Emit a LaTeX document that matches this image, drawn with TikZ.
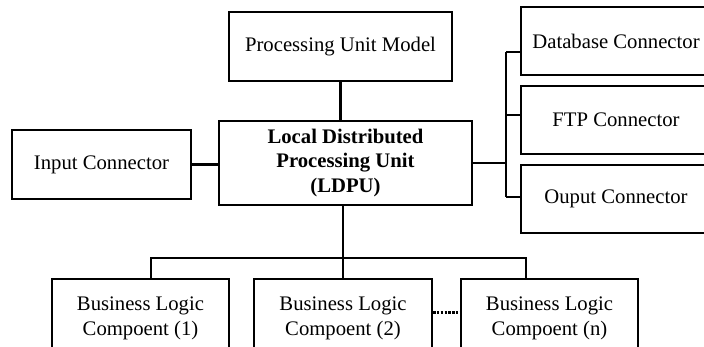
\documentclass[tikz,border=0pt]{standalone}
\usepackage{fontspec}
\setmainfont{Liberation Serif}
\begin{document}
\begin{tikzpicture}[x=1pt,y=-1pt,
  box/.style={draw, line width=2.2pt, inner sep=0pt, align=center,
    font=\fontsize{20.7}{25}\selectfont},
  wire/.style={line width=2.2pt},
  dots/.style={line width=3pt, dash pattern=on 2.4pt off 1.4pt}]
\useasboundingbox (0,0) rectangle (704,347);
\clip (0,0) rectangle (704,347);
\node[box, minimum width=223pt, minimum height=69pt] (pum) at (340.5,46.5) {Processing Unit Model};
\node[box, minimum width=253pt, minimum height=84pt, font=\fontsize{20.7}{24.5}\selectfont\bfseries] (ldpu) at (345.5,163) {Local Distributed\\Processing Unit\\(LDPU)};
\node[box, minimum width=179pt, minimum height=69pt] (in) at (101.5,164.5) {Input Connector};
\node[box, minimum width=190pt, minimum height=68pt] (db) at (616,41) {Database Connector};
\node[box, minimum width=190pt, minimum height=68pt] (ftp) at (616,120) {FTP Connector};
\node[box, minimum width=190pt, minimum height=68pt] (out) at (616,199) {Ouput Connector};
\node[box, minimum width=177pt, minimum height=78pt] (b1) at (140.5,318) {Business Logic\\Compoent (1)};
\node[box, minimum width=178pt, minimum height=78pt] (b2) at (343,318) {Business Logic\\Compoent (2)};
\node[box, minimum width=177pt, minimum height=78pt] (bn) at (549.5,318) {Business Logic\\Compoent (n)};
\coordinate (bt) at (506,52);
\coordinate (bm) at (506,115);
\coordinate (bb) at (506,197);
\coordinate (hl) at (151,258);
\coordinate (hr) at (526,258);
\draw[wire] (pum.south) -- (pum.south |- ldpu.north);
\draw[wire] (in.east) -- (in.east -| ldpu.west);
\draw[wire] (ldpu.east) -- (ldpu.east -| bt);
\draw[wire] (bt) -- (bb);
\draw[wire] (bt) -- (bt -| db.west);
\draw[wire] (bm) -- (bm -| ftp.west);
\draw[wire] (bb) -- (bb -| out.west);
\draw[wire] (b2.north |- ldpu.south) -- (b2.north);
\draw[wire] (hl |- b1.north) -- (hl) -- (hr) -- (hr |- bn.north);
\draw[dots] ([yshift=5pt]b2.east) -- ([yshift=5pt]bn.west);
\end{tikzpicture}
\end{document}
